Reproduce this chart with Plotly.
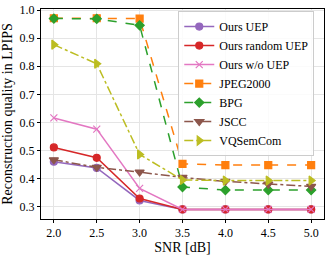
import plotly.graph_objects as go

snr = [2.0, 2.5, 3.0, 3.5, 4.0, 4.5, 5.0]
ours_uep = [0.460, 0.438, 0.322, 0.290, 0.290, 0.290, 0.290]
ours_random_uep = [0.511, 0.474, 0.329, 0.290, 0.290, 0.290, 0.290]
ours_wo_uep = [0.616, 0.576, 0.365, 0.290, 0.290, 0.290, 0.290]
jpeg2000 = [0.971, 0.971, 0.970, 0.452, 0.448, 0.448, 0.448]
bpg = [0.970, 0.969, 0.946, 0.370, 0.359, 0.359, 0.359]
jscc = [0.467, 0.440, 0.423, 0.404, 0.390, 0.380, 0.372]
vqsemcom = [0.877, 0.809, 0.486, 0.395, 0.393, 0.393, 0.393]

series = [
    ("Ours UEP", ours_uep, "#9467bd", "solid", "circle", 7),
    ("Ours random UEP", ours_random_uep, "#d62728", "solid", "circle", 7),
    ("Ours w/o UEP", ours_wo_uep, "#e377c2", "solid", "x-thin", 7),
    ("JPEG2000", jpeg2000, "#ff7f0e", "dash", "square", 7),
    ("BPG", bpg, "#2ca02c", "dash", "diamond", 7),
    ("JSCC", jscc, "#8c564b", "dashdot", "triangle-down", 8),
    ("VQSemCom", vqsemcom, "#bcbd22", "dashdot", "triangle-right", 8),
]

fig = go.Figure()
for name, ys, color, dash, sym, size in series:
    fig.add_trace(go.Scatter(
        x=snr, y=ys, name=name, mode="lines+markers",
        line=dict(color=color, width=1.5, dash=dash),
        marker=dict(color=color, symbol=sym, size=size,
                    line=dict(color=color, width=1.2)),
    ))

font = "Liberation Serif, Times New Roman, serif"
fig.update_layout(
    width=329, height=258,
    margin=dict(l=41, r=5, t=9, b=39),
    paper_bgcolor="white", plot_bgcolor="white",
    font=dict(family=font, size=12, color="black"),
    showlegend=True,
    legend=dict(x=0.485, y=0.99, xanchor="left", yanchor="top",
                bgcolor="rgba(255,255,255,0.85)", bordercolor="#cccccc", borderwidth=1,
                font=dict(family=font, size=12), tracegroupgap=0, itemwidth=30),
)
fig.update_xaxes(
    range=[1.85, 5.15], tickvals=snr, ticktext=["2.0", "2.5", "3.0", "3.5", "4.0", "4.5", "5.0"],
    showgrid=True, gridcolor="#e5e5e5", gridwidth=1,
    showline=True, linecolor="black", linewidth=1, mirror=True,
    ticks="outside", ticklen=3, tickcolor="black", automargin=False,
    title=dict(text="SNR [dB]", font=dict(family=font, size=14), standoff=1),
    zeroline=False,
)
fig.update_yaxes(
    range=[0.256, 1.004], tickvals=[0.3, 0.4, 0.5, 0.6, 0.7, 0.8, 0.9, 1.0],
    ticktext=["0.3", "0.4", "0.5", "0.6", "0.7", "0.8", "0.9", "1.0"],
    showgrid=True, gridcolor="#e5e5e5", gridwidth=1,
    showline=True, linecolor="black", linewidth=1, mirror=True,
    ticks="outside", ticklen=3, tickcolor="black", automargin=False,
    title=dict(text="Reconstruction quality in LPIPS", font=dict(family=font, size=14), standoff=4),
    zeroline=False,
)
fig.write_html("out.html", config={"displayModeBar": False},
               post_script="document.body.style.margin='0';")
